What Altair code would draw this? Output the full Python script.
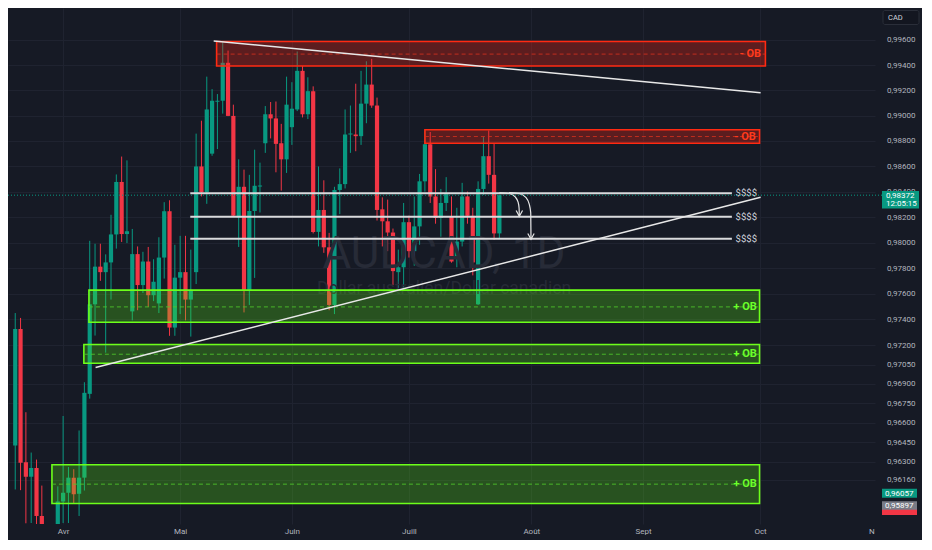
import altair as alt
import pandas as pd

# ---------------- data ----------------
opens = [0.96425, 0.97325, 0.96296, 0.96184, 0.96251, 0.95883, 0.95777, 0.95660, 0.95770, 0.95994,
         0.96061, 0.96177, 0.96053, 0.96177, 0.96823, 0.97518, 0.97812, 0.97769, 0.97845, 0.98064,
         0.98476, 0.98067, 0.97463, 0.97910, 0.97668, 0.97852, 0.97589, 0.97525, 0.97883, 0.98246,
         0.97337, 0.97726, 0.97769, 0.97555, 0.97769, 0.98598, 0.98395, 0.98699, 0.99109, 0.99117,
         0.99418, 0.98997, 0.98198, 0.98438, 0.97631, 0.98248, 0.98440, 0.98781, 0.99010, 0.98977,
         0.98781, 0.98654, 0.98908, 0.99048, 0.99354, 0.99010, 0.99193, 0.98084, 0.98256, 0.97963,
         0.97513, 0.98413, 0.98459, 0.98850, 0.98850, 0.98837, 0.99094, 0.99245, 0.99079, 0.98261,
         0.98167, 0.98079, 0.97769, 0.97807, 0.98160, 0.97933, 0.98127, 0.98481, 0.98773, 0.98362,
         0.98193, 0.98311, 0.98205, 0.97890, 0.98008, 0.98362, 0.98210, 0.97518, 0.98421, 0.98679,
         0.98532, 0.98072]
highs = [0.97450, 0.97412, 0.96681, 0.96370, 0.96316, 0.96116, 0.95790, 0.95780, 0.96110, 0.96652,
         0.96259, 0.96242, 0.96540, 0.96913, 0.98014, 0.97991, 0.97991, 0.97908, 0.98218, 0.98535,
         0.98676, 0.98646, 0.98107, 0.97970, 0.97928, 0.97966, 0.97870, 0.98042, 0.98317, 0.98332,
         0.97983, 0.98053, 0.98053, 0.97945, 0.98857, 0.98959, 0.99308, 0.99209, 0.99170, 0.99585,
         0.99515, 0.99086, 0.98654, 0.98573, 0.98532, 0.98730, 0.98628, 0.99075, 0.99107, 0.99111,
         0.98934, 0.99308, 0.99264, 0.99508, 0.99392, 0.99303, 0.99231, 0.98598, 0.98489, 0.98076,
         0.98438, 0.98583, 0.99048, 0.99079, 0.99252, 0.99354, 0.99430, 0.99449, 0.99142, 0.98355,
         0.98337, 0.98110, 0.97945, 0.98311, 0.98211, 0.98362, 0.98539, 0.98882, 0.98870, 0.98577,
         0.98421, 0.98514, 0.98362, 0.98273, 0.98469, 0.98400, 0.98273, 0.98481, 0.98832, 0.98882,
         0.98781, 0.98375]
lows = [0.96086, 0.96081, 0.95827, 0.95829, 0.95814, 0.95718, 0.95600, 0.95550, 0.95700, 0.95829,
        0.95829, 0.95975, 0.95883, 0.96078, 0.96786, 0.97275, 0.97701, 0.97142, 0.97555, 0.97953,
        0.98005, 0.97996, 0.97393, 0.97472, 0.97606, 0.97498, 0.97543, 0.97450, 0.97719, 0.97273,
        0.97273, 0.97442, 0.97393, 0.97267, 0.97676, 0.98362, 0.98304, 0.98682, 0.98735, 0.99015,
        0.98995, 0.98203, 0.97966, 0.97455, 0.97513, 0.97724, 0.98236, 0.98705, 0.98819, 0.98552,
        0.98408, 0.98547, 0.98768, 0.99035, 0.98985, 0.98972, 0.98072, 0.97970, 0.97920, 0.97472,
        0.97442, 0.98223, 0.98425, 0.98705, 0.98718, 0.98768, 0.98939, 0.99061, 0.98173, 0.97970,
        0.97933, 0.97668, 0.97644, 0.97649, 0.97883, 0.97819, 0.97983, 0.98400, 0.98311, 0.98148,
        0.98046, 0.98248, 0.97843, 0.97807, 0.97970, 0.98148, 0.97744, 0.97513, 0.98375, 0.98463,
        0.98021, 0.98034]
closes = [0.97325, 0.96291, 0.96184, 0.96251, 0.95883, 0.95777, 0.95650, 0.95750, 0.95994, 0.96061,
          0.96177, 0.96049, 0.96177, 0.96831, 0.97518, 0.97812, 0.97769, 0.97845, 0.98064, 0.98476,
          0.98067, 0.98089, 0.97910, 0.97668, 0.97852, 0.97589, 0.97694, 0.97883, 0.98246, 0.97337,
          0.97726, 0.97769, 0.97555, 0.97631, 0.98598, 0.98395, 0.99048, 0.99117, 0.99117, 0.99418,
          0.98997, 0.98211, 0.98438, 0.97631, 0.98248, 0.98446, 0.98448, 0.99010, 0.98977, 0.98776,
          0.98654, 0.99086, 0.99054, 0.99354, 0.99010, 0.99193, 0.98084, 0.98256, 0.97963, 0.97513,
          0.98413, 0.98459, 0.98850, 0.98858, 0.98837, 0.99094, 0.99245, 0.99079, 0.98256, 0.98167,
          0.98079, 0.97777, 0.97807, 0.98160, 0.97933, 0.98127, 0.98481, 0.98773, 0.98362, 0.98193,
          0.98311, 0.98380, 0.97852, 0.98008, 0.98362, 0.98210, 0.97845, 0.98421, 0.98679, 0.98532,
          0.98072, 0.98372]

# time axis (trading-day index of first session of each month)
month_idx = [9, 31, 52, 74, 97, 118, 140]
month_lbl = ["Avr", "Mai", "Juin", "Juill", "Août", "Sept", "Oct"]
next_month_idx = [161]
next_month_lbl = ["N"]

# price scale ticks
price_ticks = [0.996, 0.994, 0.992, 0.990, 0.988, 0.986, 0.984, 0.982, 0.980, 0.978, 0.976,
               0.974, 0.972, 0.9705, 0.969, 0.9675, 0.966, 0.9645, 0.963, 0.9616]

# order-block zones
ob_text = ["- OB", "- OB", "+ OB", "+ OB", "+ OB"]
ob_kind = ["bear", "bear", "bull", "bull", "bull"]
ob_start = [37.85, 77.0, 13.85, 12.9, 6.9]
ob_end = [141.0, 139.9, 139.9, 139.9, 139.9]
ob_top = [0.99587, 0.98888, 0.97629, 0.97205, 0.96276]
ob_bottom = [0.99392, 0.98781, 0.97378, 0.97060, 0.95979]
ob_mid = [0.99487, 0.98834, 0.97498, 0.97130, 0.96127]
ob_label_x = [140.2, 139.2, 139.4, 139.4, 139.4]

# liquidity lines ($$$$)
liq_price = [0.98387, 0.98203, 0.98030]
liq_start = [32.9, 32.9, 32.9]
liq_end = [134.7, 134.7, 134.7]
liq_label = ["$$$$", "$$$$", "$$$$"]
liq_label_x = [135.4, 135.4, 135.4]

# trend lines
trend_x0 = [37.3, 15.1]
trend_y0 = [0.99592, 0.97027]
trend_x1 = [140.1, 140.1]
trend_y1 = [0.99180, 0.98355]

# curved arrows (index, price)
arrow1_x = [91.00, 92.88, 93.97, 94.52, 94.70, 94.75]
arrow1_y = [0.98391, 0.98385, 0.98358, 0.98317, 0.98271, 0.98207]
arrow2_x = [92.82, 94.70, 95.97, 96.61, 96.89, 96.94]
arrow2_y = [0.98392, 0.98385, 0.98355, 0.98301, 0.98233, 0.98026]
head1_x = [94.15, 94.75, 95.35]
head1_y = [0.98252, 0.98207, 0.98252]
head2_x = [96.34, 96.94, 97.54]
head2_y = [0.98072, 0.98026, 0.98072]

last_price = 0.98372
last_price_txt = "0,98372"
countdown_txt = "12:05:15"
badge_price = [0.96057, 0.95962]
badge_txt = ["0,96057", "0,95897"]
badge_kind = ["green", "gray"]
low_badge_price = [0.95910]

wm_title = "AUDCAD, 1D"
wm_sub = "Dollar australien/Dollar canadien"
currency = "CAD"

# ---------------- styling / layout ----------------
BG = "#161A25"
GRID = "#1f2330"
UP = "#089981"
DOWN = "#F23645"
AXIS_TXT = "#b2b5be"
W, H = 867, 516
X_DOMAIN = [-0.42, 160.66]
Y_DOMAIN = [0.958215, 0.998541]

xs = alt.Scale(domain=X_DOMAIN, nice=False, zero=False)
ys = alt.Scale(type="log", domain=Y_DOMAIN, nice=False)

x_label_expr = " : ".join(f"datum.value == {v} ? '{l}'" for v, l in zip(month_idx, month_lbl)) + " : ''"
xaxis = alt.Axis(values=month_idx, labelExpr=x_label_expr, grid=True, gridColor=GRID, gridWidth=1,
                 domain=False, ticks=False, labelColor=AXIS_TXT, labelFontSize=8, labelFont="Roboto",
                 labelPadding=7.5, labelBaseline="middle", title=None, labelFlush=False)
yaxis = alt.Axis(orient="right", values=price_ticks,
                 labelExpr="replace(format(datum.value, '.5f'), '.', ',')",
                 grid=True, gridColor=GRID, gridWidth=1, domain=False, ticks=False,
                 labelColor=AXIS_TXT, labelFontSize=8, labelFont="Roboto", labelPadding=11.5,
                 labelAlign="left", labelOverlap=False, title=None)


def X(f):
    return alt.X(f, type="quantitative", scale=xs, axis=xaxis)


def Y(f):
    return alt.Y(f, type="quantitative", scale=ys, axis=yaxis)


candles = pd.DataFrame({"i": list(range(len(opens))), "open": opens, "high": highs,
                        "low": lows, "close": closes})
candles["col"] = [UP if c >= o else DOWN for o, c in zip(opens, closes)]

ob_fill = {"bear": "#ff2414", "bull": "#5cf514"}
ob_stroke = {"bear": "#ff2a12", "bull": "#6dff1a"}
ob_dash = {"bear": "#d4301f", "bull": "#4fc82a"}
ob_txt = {"bear": "#ff3a1c", "bull": "#6bff2a"}
ob_opacity = {"bear": 0.3, "bull": 0.26}
zones = pd.DataFrame({"x0": ob_start, "x1": ob_end, "top": ob_top, "bottom": ob_bottom,
                      "mid": ob_mid, "lx": ob_label_x, "t": ob_text, "kind": ob_kind})
zones["fillc"] = zones["kind"].map(ob_fill)
zones["strokec"] = zones["kind"].map(ob_stroke)
zones["dashc"] = zones["kind"].map(ob_dash)
zones["txtc"] = zones["kind"].map(ob_txt)
zones["fo"] = zones["kind"].map(ob_opacity)

liq = pd.DataFrame({"x0": liq_start, "x1": liq_end, "p": liq_price, "t": liq_label, "lx": liq_label_x})
trend = pd.DataFrame({"x0": trend_x0, "y0": trend_y0, "x1": trend_x1, "y1": trend_y1})

arrows = pd.DataFrame({
    "x": arrow1_x + arrow2_x, "p": arrow1_y + arrow2_y,
    "id": ["a1"] * len(arrow1_x) + ["a2"] * len(arrow2_x),
    "k": list(range(len(arrow1_x))) + list(range(len(arrow2_x)))})
heads = pd.DataFrame({
    "x": head1_x + head2_x, "p": head1_y + head2_y,
    "id": ["h1"] * len(head1_x) + ["h2"] * len(head2_x),
    "k": list(range(len(head1_x))) + list(range(len(head2_x)))})

# ---------------- layers ----------------
wm1 = alt.Chart(pd.DataFrame({"t": [wm_title]})).mark_text(
    font="Roboto", fontSize=44, color="#272b37", align="center", baseline="middle"
).encode(x=alt.value(436), y=alt.value(247), text="t:N")
wm2 = alt.Chart(pd.DataFrame({"t": [wm_sub]})).mark_text(
    font="Roboto", fontSize=17.5, color="#262a36", align="center", baseline="middle"
).encode(x=alt.value(436), y=alt.value(281), text="t:N")

wicks = alt.Chart(candles).mark_rule(strokeWidth=1, clip=True).encode(
    x=X("i"), y=Y("low"), y2="high", color=alt.Color("col:N", scale=None))
bodies = alt.Chart(candles).mark_bar(size=4.2, clip=True).encode(
    x=X("i"), y=Y("open"), y2="close", color=alt.Color("col:N", scale=None))

zone_rect = alt.Chart(zones).mark_rect(strokeWidth=1.6).encode(
    x=X("x0"), x2="x1", y=Y("top"), y2="bottom",
    fill=alt.Fill("fillc:N", scale=None), stroke=alt.Stroke("strokec:N", scale=None),
    fillOpacity=alt.FillOpacity("fo:Q", scale=None))
zone_mid = alt.Chart(zones).mark_rule(strokeDash=[4, 3], strokeWidth=1, opacity=0.85).encode(
    x=X("x0"), x2="x1", y=Y("mid"), color=alt.Color("dashc:N", scale=None))
zone_lbl = alt.Chart(zones).mark_text(font="Roboto", fontSize=11, fontWeight="bold",
                                      align="right", baseline="middle").encode(
    x=X("lx"), y=Y("mid"), text="t:N", color=alt.Color("txtc:N", scale=None))

liq_lines = alt.Chart(liq).mark_rule(strokeWidth=2, color="#d9dadc").encode(
    x=X("x0"), x2="x1", y=Y("p"))
liq_lbl = alt.Chart(liq).mark_text(font="Roboto", fontSize=9.5, color="#d1d4dc",
                                   align="left", baseline="middle").encode(
    x=X("lx"), y=Y("p"), text="t:N")

trend_lines = alt.Chart(trend).mark_rule(strokeWidth=1.5, color="#e8e8e8").encode(
    x=X("x0"), y=Y("y0"), x2="x1", y2="y1")

arrow_lines = alt.Chart(arrows).mark_line(strokeWidth=1.2, color="#e6e6e6",
                                          interpolate="monotone").encode(
    x=X("x"), y=Y("p"), detail="id:N", order="k:Q")
arrow_heads = alt.Chart(heads).mark_line(strokeWidth=1.2, color="#e6e6e6").encode(
    x=X("x"), y=Y("p"), detail="id:N", order="k:Q")

last_df = pd.DataFrame({"p": [last_price], "t": [last_price_txt], "c": [countdown_txt]})
last_line = alt.Chart(last_df).mark_rule(strokeDash=[1, 2], strokeWidth=1, color=UP).encode(
    x=alt.value(0), x2=alt.value(874), y=Y("p"))
last_badge = alt.Chart(last_df).mark_rect(color=UP, yOffset=-4.3, y2Offset=13.3).encode(
    x=alt.value(874), x2=alt.value(911), y=Y("p"), y2="p")
last_txt = alt.Chart(last_df).mark_text(font="Roboto", fontSize=8, color="#ffffff",
                                        align="left", baseline="middle", dy=0.5).encode(
    x=alt.value(878), y=Y("p"), text="t:N")
last_cd = alt.Chart(last_df).mark_text(font="Roboto", fontSize=8, color="#ffffff",
                                       align="left", baseline="middle", dy=8.6).encode(
    x=alt.value(878), y=Y("p"), text="c:N")

badge_colors = {"green": UP, "gray": "#787b86"}
badges = pd.DataFrame({"p": badge_price, "t": badge_txt, "kind": badge_kind})
badges["col"] = badges["kind"].map(badge_colors)
badge_rect = alt.Chart(badges).mark_rect(yOffset=-4.4, y2Offset=4.4).encode(
    x=alt.value(874), x2=alt.value(909), y=Y("p"), y2="p", color=alt.Color("col:N", scale=None))
badge_txt_l = alt.Chart(badges).mark_text(font="Roboto", fontSize=8, color="#ffffff",
                                          align="left", baseline="middle", dy=0.5).encode(
    x=alt.value(877), y=Y("p"), text="t:N")
low_badge = alt.Chart(pd.DataFrame({"p": low_badge_price})).mark_rect(
    color=DOWN, yOffset=-2.6, y2Offset=2.6).encode(
    x=alt.value(874), x2=alt.value(909), y=Y("p"), y2="p")

cad_box = alt.Chart(pd.DataFrame({"t": [currency]})).mark_rect(
    fill="#131620", stroke="#2a2e39", strokeWidth=1, cornerRadius=2).encode(
    x=alt.value(875), x2=alt.value(911), y=alt.value(2.5), y2=alt.value(16.5))
cad_txt = alt.Chart(pd.DataFrame({"t": [currency]})).mark_text(
    font="Roboto", fontSize=7.5, color="#d1d4dc", align="left", baseline="middle").encode(
    x=alt.value(880), y=alt.value(9.7), text="t:N")

next_month = alt.Chart(pd.DataFrame({"x": next_month_idx, "t": next_month_lbl})).mark_text(
    font="Roboto", fontSize=8, color=AXIS_TXT, align="center", baseline="middle").encode(
    x=X("x"), y=alt.value(H + 7.5), text="t:N")

chart = alt.layer(
    wicks, bodies, wm1, wm2,
    zone_rect, zone_mid, zone_lbl,
    liq_lines, liq_lbl, trend_lines, arrow_lines, arrow_heads,
    last_line, badge_rect, badge_txt_l, low_badge, last_badge, last_txt, last_cd,
    cad_box, cad_txt, next_month
).properties(
    width=W, height=H,
    autosize=alt.AutoSizeParams(type="none"),
    padding={"left": 0, "top": 0, "right": 47, "bottom": 16},
    background=BG
).configure_view(stroke=None, fill=BG)

chart.save("out.html", embed_options={"renderer": "svg", "actions": False})
